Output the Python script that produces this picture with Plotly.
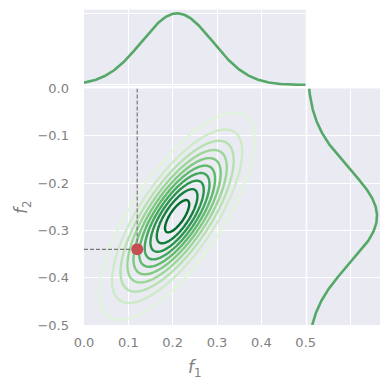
import numpy as np
import plotly.graph_objects as go
from plotly.colors import sample_colorscale

# ---- data ----
mean_f1 = 0.21
mean_f2 = -0.27
std_f1 = 0.08
std_f2 = 0.10
corr_f12 = 0.74
point_f1 = 0.12
point_f2 = -0.34
contour_start = 2.7
contour_end = 27.9
contour_step = 2.8
x_tick_vals = [0.0, 0.1, 0.2, 0.3, 0.4, 0.5]
y_tick_vals = [0.0, -0.1, -0.2, -0.3, -0.4, -0.5]
marg_top_ticks = [0, 5]
marg_right_ticks = [0, 2.5]

# ---- density grid ----
gx = np.linspace(-0.05, 0.55, 241)
gy = np.linspace(-0.6, 0.1, 281)
X, Y = np.meshgrid(gx, gy)
zx = (X - mean_f1) / std_f1
zy = (Y - mean_f2) / std_f2
q = (zx**2 - 2 * corr_f12 * zx * zy + zy**2) / (1 - corr_f12**2)
Z = np.exp(-0.5 * q) / (2 * np.pi * std_f1 * std_f2 * np.sqrt(1 - corr_f12**2))

mx = np.linspace(0, 0.5, 300)
dens_x = np.exp(-0.5 * ((mx - mean_f1) / std_f1) ** 2) / (std_f1 * np.sqrt(2 * np.pi))
my = np.linspace(-0.5, 0, 300)
dens_y = np.exp(-0.5 * ((my - mean_f2) / std_f2) ** 2) / (std_f2 * np.sqrt(2 * np.pi))

greens = [
    [0.0, "#f7fcf5"], [0.125, "#e5f5e0"], [0.25, "#c7e9c0"], [0.375, "#a1d99b"],
    [0.5, "#74c476"], [0.625, "#41ab5d"], [0.75, "#238b45"], [0.875, "#006d2c"],
    [1.0, "#00441b"],
]
# portion of the Greens map used by the contour lines (outer -> inner)
cmap_lo, cmap_hi = 0.14, 0.88
stops = np.linspace(0, 1, 11)
cols = sample_colorscale(greens, list(cmap_lo + stops * (cmap_hi - cmap_lo)))
contour_scale = [[float(s), c] for s, c in zip(stops, cols)]

line_green = "#55a868"
grey = "#808080"
bg = "#eaeaf2"
tick_font = dict(family="DejaVu Sans", size=13, color=grey)

fig = go.Figure()
fig.add_trace(go.Contour(
    x=gx, y=gy, z=Z, xaxis="x", yaxis="y",
    contours=dict(coloring="lines", start=contour_start, end=contour_end, size=contour_step),
    colorscale=contour_scale,
    line=dict(width=2.4), showscale=False, hoverinfo="skip",
))
fig.add_trace(go.Scatter(
    x=[point_f1, point_f1], y=[0, point_f2], mode="lines",
    line=dict(color="#777777", width=1.2, dash="4px,2px"), xaxis="x", yaxis="y",
))
fig.add_trace(go.Scatter(
    x=[0, point_f1], y=[point_f2, point_f2], mode="lines",
    line=dict(color="#777777", width=1.2, dash="4px,2px"), xaxis="x", yaxis="y",
))
fig.add_trace(go.Scatter(
    x=[point_f1], y=[point_f2], mode="markers",
    marker=dict(color="#c44e52", size=12, line=dict(width=0)), xaxis="x", yaxis="y",
))
fig.add_trace(go.Scatter(
    x=mx, y=dens_x, mode="lines", line=dict(color=line_green, width=2.6),
    xaxis="x2", yaxis="y2",
))
fig.add_trace(go.Scatter(
    x=dens_y, y=my, mode="lines", line=dict(color=line_green, width=2.6),
    xaxis="x3", yaxis="y3",
))

grid = dict(showgrid=True, gridcolor="white", gridwidth=1, zeroline=False, showline=False)
main_x_dom = [84 / 390, 305.7 / 390]
main_y_dom = [1 - 325 / 390, 1 - 88.5 / 390]

fig.update_layout(
    width=390, height=390, margin=dict(l=0, r=0, t=0, b=0, autoexpand=False),
    paper_bgcolor="white", plot_bgcolor=bg, showlegend=False,
    font=dict(family="DejaVu Sans", size=13, color=grey),
    xaxis=dict(domain=main_x_dom, range=[0, 0.5], tickvals=x_tick_vals, tickfont=tick_font,
               tickformat=".1f", anchor="y", ticks="", ticklabelstandoff=8, **grid),
    yaxis=dict(domain=main_y_dom, range=[-0.5, 0], tickvals=y_tick_vals, tickfont=tick_font,
               tickformat=".1f", anchor="x", ticks="", ticklabelstandoff=14, **grid),
    xaxis2=dict(domain=main_x_dom, range=[0, 0.5], tickvals=x_tick_vals,
                showticklabels=False, anchor="y2", **grid),
    yaxis2=dict(domain=[1 - 86 / 390, 1 - 9.7 / 390], range=[-0.07, 5.24],
                tickvals=marg_top_ticks, showticklabels=False, anchor="x2", **grid),
    xaxis3=dict(domain=[307.3 / 390, 380 / 390], range=[0, 4.16],
                tickvals=marg_right_ticks, showticklabels=False, anchor="y3", **grid),
    yaxis3=dict(domain=main_y_dom, range=[-0.5, 0], tickvals=y_tick_vals,
                showticklabels=False, anchor="x3", **grid),
    annotations=[
        dict(text="<i>f</i><sub>1</sub>", x=195 / 390, y=1 - 368 / 390, xref="paper", yref="paper",
             xanchor="center", yanchor="middle",
             showarrow=False, font=dict(family="DejaVu Sans", size=17, color=grey)),
        dict(text="<i>f</i><sub>2</sub>", x=22 / 390, y=1 - 207 / 390, xref="paper", yref="paper",
             xanchor="center", yanchor="middle",
             showarrow=False, textangle=-90, font=dict(family="DejaVu Sans", size=17, color=grey)),
    ],
)

fig.write_html(
    "out.html",
    post_script="document.body.style.margin='0';document.body.style.padding='0';",
)
